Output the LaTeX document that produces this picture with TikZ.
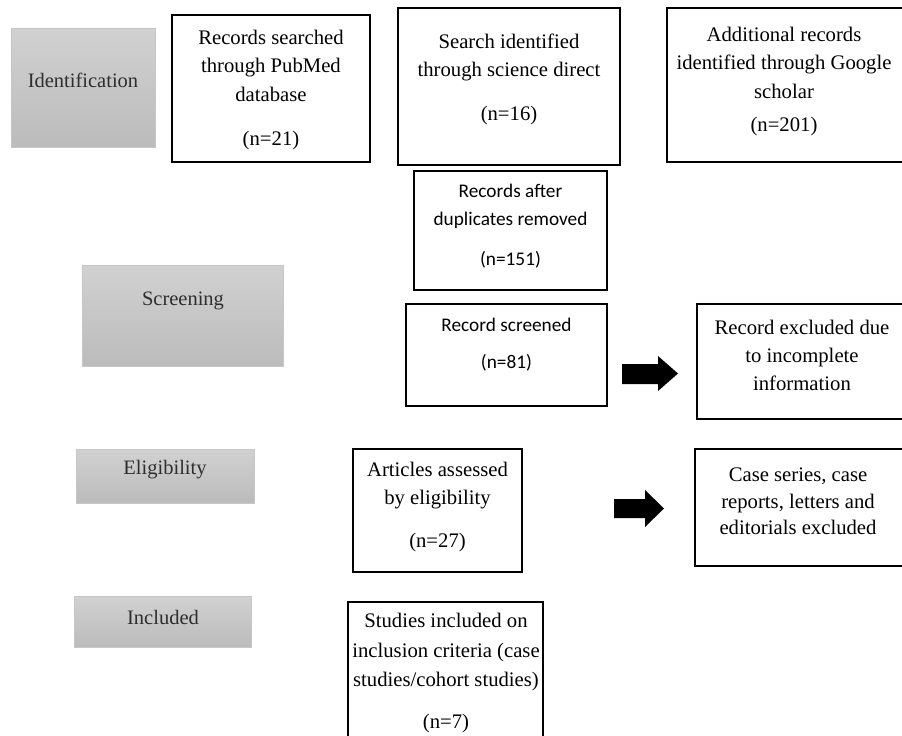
\documentclass[tikz,border=0pt]{standalone}
\usepackage{fontspec}
\setmainfont{Liberation Serif}
\newfontfamily\calfont{Carlito}
\begin{document}
\begin{tikzpicture}[x=1pt,y=-1pt,
  box/.style={draw=black,line width=2.6pt,fill=white,inner sep=0pt},
  stage/.style={draw=gray!45,line width=0.8pt,top color=gray!36,bottom color=gray!53,inner sep=0pt},
  stagetext/.style={font=\fontsize{20.5}{28.5}\selectfont,text=black!82},
  txt/.style={align=center,font=\fontsize{20.7}{28.5}\selectfont,inner sep=0pt},
  ctxt/.style={align=center,font=\calfont\fontsize{19.3}{28}\selectfont,inner sep=0pt},
  blockarrow/.style={fill=black}]
\useasboundingbox (0,0) rectangle (902,736);
% stage boxes
\node[stage,minimum width=144pt,minimum height=119pt] (idn) at (83,87.5) {};
\node[stage,minimum width=201pt,minimum height=101pt] (scn) at (182.5,315.5) {};
\node[stage,minimum width=178pt,minimum height=54pt] (elg) at (165,476) {};
\node[stage,minimum width=177pt,minimum height=51pt] (inc) at (162.5,621.5) {};
\node[stagetext] (idnt) at (83,80) {Identification};
\node[stagetext] (scnt) at (183,301) {Screening};
\node[stagetext] (elgt) at (165,470) {Eligibility};
\node[stagetext] (inct) at (163,617) {Included};
% record boxes
\node[box,minimum width=198pt,minimum height=147pt] (pub) at (271,88.5) {};
\node[box,minimum width=222pt,minimum height=157pt] (sci) at (509,86.5) {};
\node[box,minimum width=248pt,minimum height=154pt] (goo) at (791,85) {};
\node[box,minimum width=193pt,minimum height=119pt] (dup) at (510.5,230.5) {};
\node[box,minimum width=201pt,minimum height=102pt] (scr) at (506.5,355) {};
\node[box,minimum width=218pt,minimum height=115pt] (exa) at (806,361.5) {};
\node[box,minimum width=169pt,minimum height=123pt] (art) at (437.5,510.5) {};
\node[box,minimum width=195pt,minimum height=158pt] (stu) at (445.5,681) {};
\node[box,minimum width=220pt,minimum height=117pt] (exb) at (805,507.5) {};
% texts
\node[txt] (pubt) at (271,65.5) {Records searched\\through PubMed\\database};
\node[txt] (pubn) at (271,141) {(n=21)};
\node[txt] (scit) at (509,57.5) {Search identified\\through science direct};
\node[txt] (scin) at (509,116) {(n=16)};
\node[txt] (goot) at (784,62.5) {Additional records\\identified through Google\\scholar};
\node[txt] (goon) at (784,127) {(n=201)};
\node[ctxt] (dupt) at (510.5,206) {Records after\\duplicates removed};
\node[ctxt] (dupn) at (510.5,260) {(n=151)};
\node[ctxt] (scrt) at (506.5,325) {Record screened};
\node[ctxt] (scrn) at (506.5,363) {(n=81)};
\node[txt,font=\fontsize{20.7}{28}\selectfont] (exat) at (802,355) {Record excluded due\\to incomplete\\information};
\node[txt,font=\fontsize{20.7}{28}\selectfont] (artt) at (437.5,486) {Articles assessed\\by eligibility};
\node[txt] (artn) at (437.5,543) {(n=27)};
\node[txt,font=\fontsize{20.7}{29.5}\selectfont] (stut) at (446,652.5) {Studies included on\\inclusion criteria (case\\studies/cohort studies)};
\node[txt] (stun) at (446,724) {(n=7)};
\node[txt,font=\fontsize{20.7}{26.5}\selectfont] (exbt) at (798,501.5) {Case series, case\\reports, letters and\\editorials excluded};
% block arrows
\fill[blockarrow] (622,364) -- (658,364) -- (658,356) -- (678,373.5) -- (658,391) -- (658,384) -- (622,384) -- cycle;
\fill[blockarrow] (614,499) -- (645,499) -- (645,490) -- (664,508.5) -- (645,527) -- (645,518) -- (614,518) -- cycle;
\end{tikzpicture}
\end{document}
